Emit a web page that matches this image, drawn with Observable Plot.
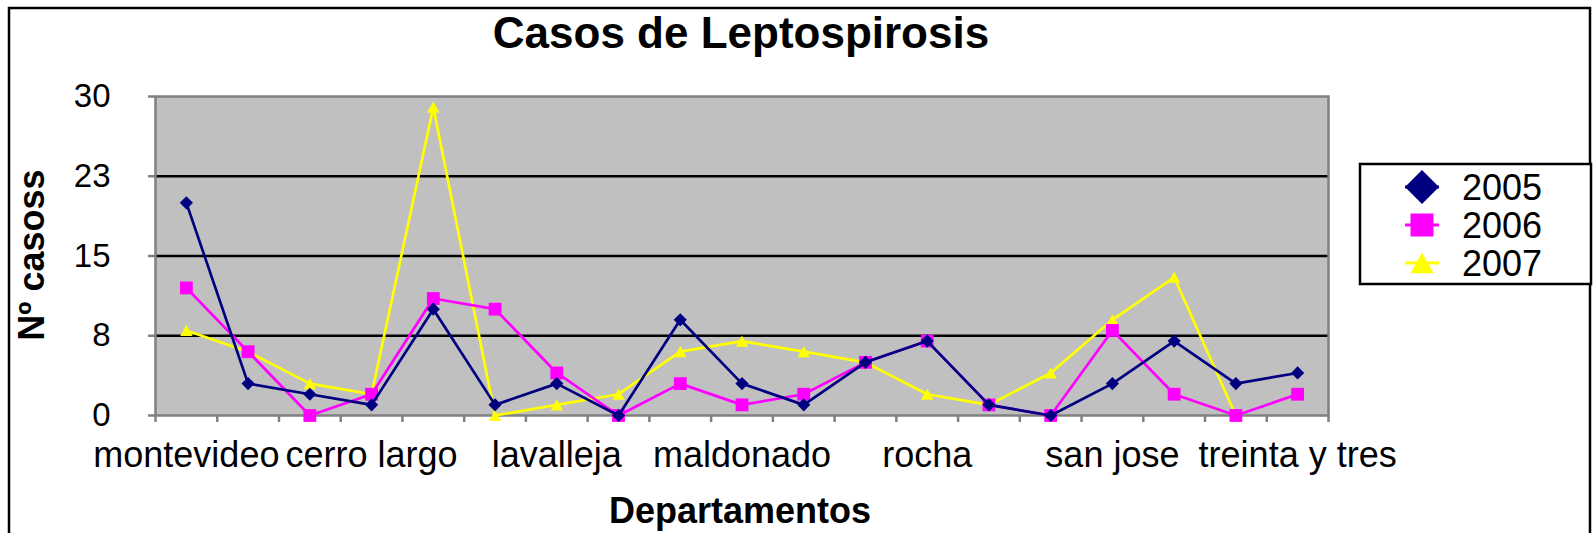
<!DOCTYPE html>
<html>
<head>
<meta charset="utf-8">
<script src="https://cdn.jsdelivr.net/npm/d3@7"></script>
<script src="https://cdn.jsdelivr.net/npm/@observablehq/plot@0.6"></script>
<style>
  html, body { margin: 0; padding: 0; background: #fff; overflow: hidden; }
  #wrap { position: relative; width: 1595px; height: 533px; font-family: "Liberation Sans", Arial, sans-serif; }
  #overlay { position: absolute; left: 0; top: 0; pointer-events: none; }
  #chart { position: absolute; left: 0; top: 0; }
</style>
</head>
<body>
<div id="wrap"><div id="chart"></div></div>
<script>
// ---- data ----
const categories = ["montevideo", "artigas", "canelones", "cerro largo", "colonia", "durazno",
  "lavalleja", "flores", "florida", "maldonado", "paysandu", "rio negro", "rocha", "rivera",
  "salto", "san jose", "soriano", "tacuarembo", "treinta y tres"];
const labelIndex = [0, 3, 6, 9, 12, 15, 18];
const years = ["2005", "2006", "2007"];
const values2005 = [20, 3, 2, 1, 10, 1, 3, 0, 9, 3, 1, 5, 7, 1, 0, 3, 7, 3, 4];
const values2006 = [12, 6, 0, 2, 11, 10, 4, 0, 3, 1, 2, 5, 7, 1, 0, 8, 2, 0, 2];
const values2007 = [8, 6, 3, 2, 29, 0, 1, 2, 6, 7, 6, 5, 2, 1, 4, 9, 13, 0, null];
const yTicks = [0, 7.5, 15, 22.5, 30];
const yTickLabels = ["0", "8", "15", "23", "30"];
const titleText = "Casos de Leptospirosis";
const xTitle = "Departamentos";
const yTitle = "Nº casoss";

// ---- styles ----
const colors = {"2005": "#000080", "2006": "#FF00FF", "2007": "#FFFF00"};
const FONT = "Liberation Sans, Arial, sans-serif";

const diamondSym = {draw(ctx, size) { const h = Math.sqrt(size / Math.PI); ctx.moveTo(0, -h); ctx.lineTo(h, 0); ctx.lineTo(0, h); ctx.lineTo(-h, 0); ctx.closePath(); }};
const squareSym = {draw(ctx, size) { const h = Math.sqrt(size / Math.PI); ctx.moveTo(-h, -h); ctx.lineTo(h, -h); ctx.lineTo(h, h); ctx.lineTo(-h, h); ctx.closePath(); }};
const triangleSym = {draw(ctx, size) { const h = Math.sqrt(size / Math.PI); ctx.moveTo(0, -h * 0.9); ctx.lineTo(h, h * 0.9); ctx.lineTo(-h, h * 0.9); ctx.closePath(); }};
const symbols = {"2005": diamondSym, "2006": squareSym, "2007": triangleSym};
const radii = {"2005": 6.6, "2006": 6.4, "2007": 6.2};

const seriesValues = {"2005": values2005, "2006": values2006, "2007": values2007};
const rows = years.flatMap(year => seriesValues[year]
  .map((v, i) => ({year, i, value: v}))
  .filter(d => d.value != null));

const seriesMarks = years.slice().reverse().flatMap(year => {
  const d = rows.filter(r => r.year === year);
  return [
    Plot.line(d, {x: "i", y: "value", stroke: colors[year], strokeWidth: 2.7}),
    Plot.dot(d, {x: "i", y: "value", fill: colors[year], symbol: symbols[year], r: radii[year]})
  ];
});

const chart = Plot.plot({
  width: 1595,
  height: 533,
  marginLeft: 155,
  marginRight: 267,
  marginTop: 96,
  marginBottom: 118,
  style: {fontFamily: FONT, background: "transparent", color: "#000", overflow: "visible"},
  x: {type: "linear", domain: [-0.5, categories.length - 0.5]},
  y: {domain: [0, 30]},
  marks: [
    Plot.frame({fill: "#C0C0C0", stroke: "none"}),
    Plot.ruleY(yTicks.slice(1, -1), {stroke: "#000", strokeWidth: 2.5}),
    Plot.frame({stroke: "#808080", strokeWidth: 2.5}),
    Plot.axisY({ticks: yTicks, tickSize: 7, tickPadding: 38, stroke: "#808080", strokeWidth: 2.5,
      fill: "#000", fontSize: 33, label: null,
      tickFormat: y => yTickLabels[yTicks.indexOf(y)]}),
    Plot.axisX({ticks: d3.range(-0.5, categories.length, 1), tickSize: 7, stroke: "#808080",
      strokeWidth: 2.5, tickFormat: () => "", label: null}),
    Plot.axisX({ticks: labelIndex, tickSize: 0, tickPadding: 26, fontSize: 36, fill: "#000",
      label: null, tickFormat: i => categories[i]}),
    ...seriesMarks
  ]
});
document.getElementById("chart").appendChild(chart);

// ---- overlay: border, titles, legend ----
const ov = d3.select("#wrap").append("svg").attr("id", "overlay")
  .attr("width", 1595).attr("height", 533)
  .style("font-family", FONT);

ov.append("rect").attr("x", 9).attr("y", 8).attr("width", 1581).attr("height", 700)
  .attr("fill", "none").attr("stroke", "#000").attr("stroke-width", 2.5);

ov.append("text").attr("x", 741).attr("y", 48).attr("text-anchor", "middle")
  .attr("font-size", 44).attr("font-weight", "bold").text(titleText);

ov.append("text").attr("x", 740).attr("y", 523).attr("text-anchor", "middle")
  .attr("font-size", 36).attr("font-weight", "bold").text(xTitle);

ov.append("text").attr("transform", "translate(44,255) rotate(-90)").attr("text-anchor", "middle")
  .attr("font-size", 36).attr("font-weight", "bold").text(yTitle);

const lg = ov.append("g");
lg.append("rect").attr("x", 1360).attr("y", 164).attr("width", 231).attr("height", 120)
  .attr("fill", "#fff").attr("stroke", "#000").attr("stroke-width", 2.5);
const legendSizes = {"2005": 17, "2006": 11.5, "2007": 11.5};
years.forEach((year, k) => {
  const cy = 187 + k * 38;
  const g = lg.append("g").attr("transform", `translate(1422,${cy})`);
  g.append("line").attr("x1", -17).attr("x2", 17).attr("stroke", colors[year]).attr("stroke-width", 3);
  const h = legendSizes[year];
  const p = d3.path();
  symbols[year].draw(p, Math.PI * h * h);
  g.append("path").attr("d", p.toString()).attr("fill", colors[year]);
  lg.append("text").attr("x", 1462).attr("y", cy + 13).attr("font-size", 36).text(year);
});
</script>
</body>
</html>
